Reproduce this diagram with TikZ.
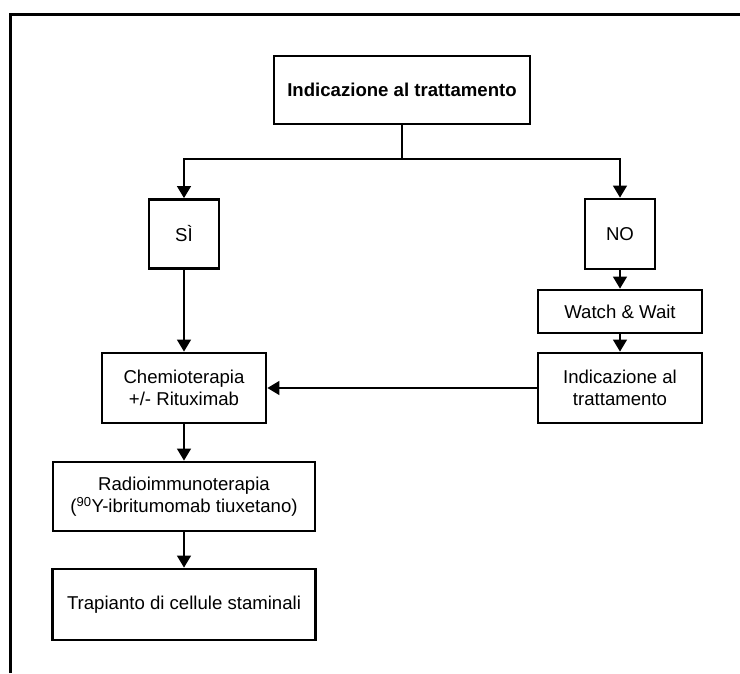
\documentclass[tikz,border=0pt]{standalone}
\usepackage{fontspec}
\setmainfont{Liberation Sans}
\usetikzlibrary{arrows.meta}

\tikzset{
  box/.style={draw, line width=2.8pt, inner sep=0pt, align=center,
              font=\fontsize{18.6}{22.5}\selectfont},
  flow/.style={line width=1.3pt, -{Triangle[length=12pt,width=14pt]}},
}

\begin{document}
\begin{tikzpicture}[x=1pt,y=-1pt]
         \useasboundingbox (0,0) rectangle (740,673) ;
         \draw[line width=3pt] (10,673) -- (10,14) -- (740,14) ;
         % nodes
         \node[box, minimum width=256pt, minimum height=68pt] (start) at (402,90)
            {\bfseries Indicazione al trattamento} ;
         \node[box, minimum width=70pt, minimum height=69pt] (si) at (184,234) {SÌ} ;
         \node[box, minimum width=70pt, minimum height=70pt] (no) at (620,234) {NO} ;
         \node[box, minimum width=164pt, minimum height=43pt] (watch) at (620,311.5) {Watch \& Wait} ;
         \node[box, minimum width=164pt, minimum height=70pt] (again) at (620,388)
            {Indicazione al\\trattamento} ;
         \node[box, minimum width=164pt, minimum height=70pt] (chemo) at (184,388)
            {Chemioterapia\\+/- Rituximab} ;
         \node[box, minimum width=262pt, minimum height=69pt] (radio) at (184,496.5)
            {Radioimmunoterapia\\(\textsuperscript{90}Y-ibritumomab tiuxetano)} ;
         \node[box, minimum width=263pt, minimum height=71pt] (trap) at (184,604.5)
            {Trapianto di cellule staminali} ;
         % connectors
         \coordinate (split) at (402,159) ;
         \draw[line width=1.3pt] (start.south) -- (split) ;
         \draw[flow] (split) -| (si.north) ;
         \draw[flow] (split) -| (no.north) ;
         \draw[flow] (si.south) -- (chemo.north) ;
         \draw[flow] (no.south) -- (watch.north) ;
         \draw[flow] (watch.south) -- (again.north) ;
         \draw[flow] (again.west) -- (chemo.east) ;
         \draw[flow] (chemo.south) -- (radio.north) ;
         \draw[flow] (radio.south) -- (trap.north) ;
      \end{tikzpicture}
\end{document}
